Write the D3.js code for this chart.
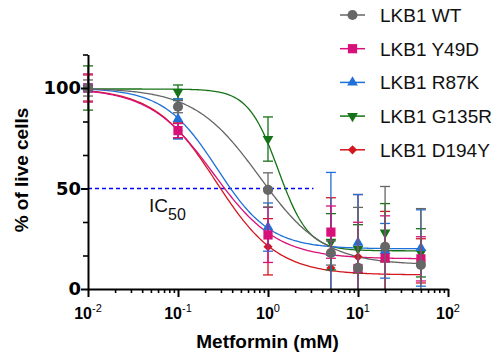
<!DOCTYPE html>
<html>
<head>
<meta charset="utf-8">
<script src="https://cdn.jsdelivr.net/npm/d3@7"></script>
<style>
  body { margin: 0; background: #fff; }
  svg { display: block; font-family: "Liberation Sans", Arial, sans-serif; }
</style>
</head>
<body>
<div id="chart"></div>
<script>
// metformin concentrations (mM)
const conc = [0.01, 0.1, 1, 5, 10, 20, 50];

const seriesNames = ['LKB1 WT', 'LKB1 Y49D', 'LKB1 R87K', 'LKB1 G135R', 'LKB1 D194Y'];
const seriesColors = ['#666666', '#d7107a', '#1f70d8', '#167216', '#d4161e'];
const seriesSymbols = ['circle', 'square', 'triangle', 'triangleDown', 'diamond'];

// % of live cells, mean and error for each series
const meanWT    = [100, 90.7, 49.3, 17.9, 10.6, 21, 12];
const errWT     = [4, 3, 8.5, 6, 30, 30, 28];
const meanY49D  = [100, 78.8, 26.9, 28.3, 10.2, 15.4, 15];
const errY49D   = [7, 3.5, 13.7, 13, 23, 21, 11];
const meanR87K  = [100, 84.6, 30.8, 18, 23, 19, 20.4];
const errR87K   = [2, 10, 12, 40, 24, 13.6, 19];
const meanG135R = [100, 98, 74.6, 23.5, 20, 28, 18];
const errG135R  = [11, 3.5, 11, 14, 12, 14.5, 12];
const meanD194Y = [100, 79, 21, 10.4, 16, 18.6, 14];
const errD194Y  = [6.5, 4, 14, 35, 31, 20, 11];

// fitted dose-response curves (top, bottom, EC50, hill)
const fitTop    = [100, 100, 100, 99.5, 100];
const fitBottom = [12, 15, 20, 19, 7];
const fitEC50   = [0.8, 0.247, 0.271, 1.3, 0.264];
const fitHill   = [1.2, 1.23, 1.47, 2.6, 1.27];

const yMajor = [0, 50, 100];
const yMinor = [50 / 3, 100 / 3, 200 / 3, 250 / 3, 350 / 3];
const xMajor = [-2, -1, 0, 1, 2];
const icLevel = 50;
const icRange = [0.01, 3.2];

const means = [meanWT, meanY49D, meanR87K, meanG135R, meanD194Y];
const errs = [errWT, errY49D, errR87K, errG135R, errD194Y];

const w = 494;
const h = 354;
const svg = d3.select('#chart')
  .append('svg')
  .attr('width', w)
  .attr('height', h);

const xScale = d3.scaleLog()
  .domain([0.01, 100])
  .range([88, 448]);
const yScale = d3.scaleLinear()
  .domain([0, 350 / 3])
  .range([289, 289 - 350 / 3 * 2.01]);

// IC50 reference line
svg.append('line')
  .attr('x1', xScale(icRange[0]))
  .attr('x2', xScale(icRange[1]))
  .attr('y1', yScale(icLevel))
  .attr('y2', yScale(icLevel))
  .attr('stroke', '#0000ff')
  .attr('stroke-width', 1.3)
  .attr('stroke-dasharray', '4,3');

const icText = svg.append('text')
  .attr('x', 149)
  .attr('y', 212)
  .attr('font-size', 19)
  .attr('fill', '#111');
icText.append('tspan').text('IC');
icText.append('tspan').attr('font-size', 16).attr('dy', 7.5).text('50');

const symbolOf = name => {
  if (name === 'circle') return d3.symbol(d3.symbolCircle, 80)();
  if (name === 'square') return d3.symbol(d3.symbolSquare, 85)();
  if (name === 'diamond') return d3.symbol(d3.symbolSquare, 42)();
  return d3.symbol(d3.symbolTriangle, 50)();
};
const symbolRotate = name => name === 'diamond' ? 45 : (name === 'triangleDown' ? 180 : 0);

// draw order: last series first so WT ends on top
const order = [4, 3, 2, 1, 0];

// curves
const xs = d3.range(0, 201).map(i => Math.pow(10, -2 + i * (Math.log10(50) + 2) / 200));
const line = d3.line()
  .x(d => xScale(d[0]))
  .y(d => yScale(d[1]));

order.forEach(k => {
  const pts = xs.map(x => [x, fitBottom[k] + (fitTop[k] - fitBottom[k]) / (1 + Math.pow(x / fitEC50[k], fitHill[k]))]);
  svg.append('path')
    .attr('d', line(pts))
    .attr('fill', 'none')
    .attr('stroke', seriesColors[k])
    .attr('stroke-width', 1.3);
});

// error bars and markers
order.forEach(k => {
  const g = svg.append('g')
    .attr('stroke', seriesColors[k])
    .attr('stroke-width', 1.3);
  conc.forEach((c, i) => {
    const x = xScale(c);
    const hi = means[k][i] + errs[k][i];
    const lo = Math.max(0, means[k][i] - errs[k][i]);
    g.append('line')
      .attr('x1', x).attr('x2', x)
      .attr('y1', yScale(hi)).attr('y2', yScale(lo));
    g.append('line')
      .attr('x1', x - 5).attr('x2', x + 5)
      .attr('y1', yScale(hi)).attr('y2', yScale(hi));
    if (means[k][i] - errs[k][i] > 0) {
      g.append('line')
        .attr('x1', x - 5).attr('x2', x + 5)
        .attr('y1', yScale(lo)).attr('y2', yScale(lo));
    }
  });
  svg.append('g')
    .selectAll('path')
    .data(conc)
    .enter()
    .append('path')
    .attr('d', symbolOf(seriesSymbols[k]))
    .attr('transform', (d, i) => 'translate(' + xScale(d) + ',' + yScale(means[k][i]) + ') rotate(' + symbolRotate(seriesSymbols[k]) + ')')
    .attr('fill', seriesColors[k]);
});

// x axis
const minorX = [];
for (let e = -2; e < 2; e++) {
  for (let m = 2; m <= 9; m++) minorX.push(m * Math.pow(10, e));
}
svg.append('g')
  .attr('transform', 'translate(0,289)')
  .call(d3.axisBottom(xScale).tickValues(minorX).tickSize(4).tickSizeOuter(0).tickFormat(''))
  .call(g => g.select('.domain').remove())
  .selectAll('line').attr('stroke-width', 1.6);
svg.append('g')
  .attr('transform', 'translate(0,289)')
  .call(d3.axisBottom(xScale).tickValues(xMajor.map(e => Math.pow(10, e))).tickSize(8).tickSizeOuter(0).tickFormat(''))
  .call(g => g.select('.domain').attr('stroke-width', 2))
  .selectAll('line').attr('stroke-width', 2);

xMajor.forEach(e => {
  const t = svg.append('text')
    .attr('x', xScale(Math.pow(10, e)))
    .attr('y', 319)
    .attr('text-anchor', 'middle')
    .attr('fill', '#000');
  t.append('tspan').attr('font-size', 16).attr('font-weight', 'bold').text('10');
  t.append('tspan').attr('font-size', 11).attr('dy', -7).text(e);
});

svg.append('text')
  .attr('x', 267.5)
  .attr('y', 348)
  .attr('text-anchor', 'middle')
  .attr('font-size', 19)
  .attr('font-weight', 'bold')
  .text('Metformin (mM)');

// y axis
svg.append('g')
  .attr('transform', 'translate(88,0)')
  .call(d3.axisLeft(yScale).tickValues(yMinor).tickSize(5).tickSizeOuter(0).tickFormat(''))
  .call(g => g.select('.domain').remove())
  .selectAll('line').attr('stroke-width', 1.6);
svg.append('g')
  .attr('transform', 'translate(88,0)')
  .call(d3.axisLeft(yScale).tickValues(yMajor).tickSize(7).tickSizeOuter(0).tickPadding(0))
  .call(g => g.select('.domain').attr('stroke-width', 2))
  .call(g => g.selectAll('text')
    .attr('font-family', '"DejaVu Sans", sans-serif')
    .attr('font-size', 18)
    .attr('font-weight', 'bold')
    .attr('fill', '#000'))
  .selectAll('line').attr('stroke-width', 2);

svg.append('text')
  .attr('transform', 'translate(27.5,170) rotate(-90)')
  .attr('text-anchor', 'middle')
  .attr('font-size', 19)
  .attr('font-weight', 'bold')
  .text('% of live cells');

// legend
const legend = svg.append('g')
  .selectAll('g')
  .data(seriesNames)
  .enter()
  .append('g')
  .attr('transform', (d, i) => 'translate(0,' + (15 + i * 33.7) + ')');
legend.append('line')
  .attr('x1', 340).attr('x2', 365)
  .attr('stroke', (d, i) => seriesColors[i])
  .attr('stroke-width', 1.5);
legend.append('path')
  .attr('d', (d, i) => symbolOf(seriesSymbols[i]))
  .attr('transform', (d, i) => 'translate(352.5,0) rotate(' + symbolRotate(seriesSymbols[i]) + ')')
  .attr('fill', (d, i) => seriesColors[i]);
legend.append('text')
  .attr('x', 380)
  .attr('y', 7)
  .attr('font-size', 19)
  .attr('fill', '#111')
  .text(d => d);
</script>
</body>
</html>
